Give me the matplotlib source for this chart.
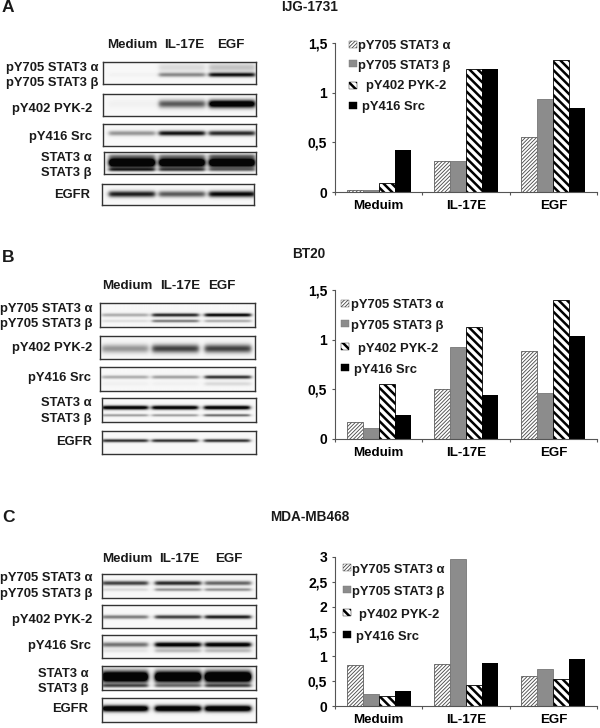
import numpy as np
import matplotlib
matplotlib.use('Agg')
import matplotlib.pyplot as plt
from matplotlib.patches import Rectangle

plt.rcParams['font.family'] = ['Liberation Sans', 'DejaVu Sans']
plt.rcParams['font.weight'] = 'bold'

W, H = 600, 728
categories = ['Meduim', 'IL-17E', 'EGF']
series = ['pY705 STAT3 α', 'pY705 STAT3 β', 'pY402 PYK-2', 'pY416 Src']
lanes = ['Medium', 'IL-17E', 'EGF']

# bar values, one list per series
a_alpha = [0.02, 0.31, 0.55]
a_beta = [0.02, 0.31, 0.94]
a_pyk = [0.09, 1.24, 1.33]
a_src = [0.42, 1.24, 0.85]

b_alpha = [0.17, 0.50, 0.89]
b_beta = [0.11, 0.93, 0.46]
b_pyk = [0.55, 1.13, 1.40]
b_src = [0.24, 0.44, 1.04]

c_alpha = [0.82, 0.84, 0.60]
c_beta = [0.24, 2.95, 0.74]
c_pyk = [0.20, 0.42, 0.55]
c_src = [0.30, 0.86, 0.94]

# blot bands: (height in box, thickness in px, strength per lane)
a_blots = [
    [(0.58, 1.6, [0.02, 0.45, 0.95]), (0.25, 3.0, [0.0, 0.12, 0.22])],
    [(0.45, 2.8, [0.03, 0.65, 1.3])],
    [(0.42, 1.8, [0.4, 0.95, 0.85])],
    [(0.48, 3.5, [1.6, 1.5, 1.5]), (0.80, 1.3, [0.7, 0.6, 0.45]), (0.18, 1.5, [0.25, 0.25, 0.35])],
    [(0.48, 2.2, [0.9, 0.65, 1.0])],
]
b_blots = [
    [(0.50, 1.3, [0.3, 0.85, 1.0]), (0.75, 1.1, [0.1, 0.5, 0.3])],
    [(0.55, 3.0, [0.4, 0.75, 0.75])],
    [(0.42, 1.3, [0.3, 0.35, 0.8]), (0.70, 1.5, [0.03, 0.03, 0.12])],
    [(0.40, 1.5, [1.1, 1.1, 1.1]), (0.72, 1.0, [0.35, 0.35, 0.55])],
    [(0.42, 1.2, [0.8, 0.8, 0.8])],
]
c_blots = [
    [(0.38, 1.6, [0.75, 0.85, 0.6]), (0.65, 1.2, [0.12, 0.4, 0.4])],
    [(0.52, 1.4, [0.5, 0.75, 0.9])],
    [(0.42, 1.8, [0.55, 1.1, 1.1]), (0.68, 1.5, [0.08, 0.25, 0.25])],
    [(0.45, 4.0, [1.6, 1.6, 1.7]), (0.82, 1.3, [0.6, 0.45, 0.6])],
    [(0.44, 2.3, [1.3, 1.3, 1.3])],
]

fig = plt.figure(figsize=(W / 100, H / 100), dpi=100)


def txt(x, y, s, size=9.4, ha='left'):
    fig.text(x / W, 1 - y / H, s, fontsize=size, ha=ha, va='center', color='#1a1a1a')


def axes_px(x0, y0, x1, y1):
    return fig.add_axes([x0 / W, 1 - y1 / H, (x1 - x0) / W, (y1 - y0) / H])


def blot(box, lane_x, bands):
    x0, y0, x1, y1 = box
    xx = np.arange(x0, x1) + 0.5
    yy = np.arange(y0, y1) + 0.5
    dark = np.zeros((len(yy), len(xx)))
    for pos, thick, strength in bands:
        row = np.exp(-((yy - (y0 + pos * (y1 - y0))) / thick) ** 2 / 2)
        for cx, s in zip(lane_x, strength):
            col = 0.5 * (np.tanh((xx - cx + 23) / 2.5) - np.tanh((xx - cx - 23) / 2.5))
            dark += s * np.outer(row, col)
    ax = axes_px(x0, y0, x1, y1)
    ax.imshow(0.97 - 0.95 * np.clip(dark, 0, 1), cmap='gray', vmin=0, vmax=1, aspect='auto')
    ax.set_xticks([])
    ax.set_yticks([])
    for sp in ax.spines.values():
        sp.set_linewidth(1.0)
        sp.set_color('#333333')


def thick_hatch(patch, lw):
    # hatch width is global in matplotlib, so set it for this one patch at draw time
    old_draw = patch.draw

    def draw(renderer):
        with plt.rc_context({'hatch.linewidth': lw}):
            old_draw(renderer)
    patch.draw = draw
    if hasattr(patch, 'set_hatch_linewidth'):
        patch.set_hatch_linewidth(lw)


bar_styles = [
    dict(facecolor='white', edgecolor='#444444', hatch='/' * 9, linewidth=0.5),
    dict(facecolor='#8c8c8c', edgecolor='#777777', linewidth=0.6),
    dict(facecolor='white', edgecolor='black', hatch='\\' * 4, linewidth=0.6),
    dict(facecolor='black', edgecolor='black', linewidth=0),
]
hatch_widths = [0.6, 1, 1.8, 1]


def bars(y_top, y_zero, ymax, step, values):
    ax = axes_px(335, y_top, 597, y_zero)
    x = np.arange(3)
    w = 0.183
    for i, vals in enumerate(values):
        drawn = ax.bar(x + (i - 1.5) * w, vals, w, **bar_styles[i])
        for p in drawn:
            thick_hatch(p, hatch_widths[i])
    ax.set_xlim(-0.5, 2.5)
    ax.set_ylim(0, ymax)
    ticks = np.arange(0, ymax + 0.01, step)
    ax.set_yticks(ticks)
    ax.set_yticklabels([f'{t:g}'.replace('.', ',') for t in ticks], fontsize=10)
    ax.set_xticks(x)
    ax.set_xticklabels(categories, fontsize=9.6)
    ax.set_xticks([-0.5, 0.5, 1.5, 2.5], minor=True)
    ax.tick_params(axis='x', which='major', length=0, pad=6)
    ax.tick_params(axis='x', which='minor', length=2.5, width=0.8, color='#555555')
    ax.tick_params(axis='y', length=2.5, width=0.8, color='#555555', pad=3)
    ax.spines['top'].set_visible(False)
    ax.spines['right'].set_visible(False)
    ax.spines['left'].set_color('#555555')
    ax.spines['bottom'].set_color('#555555')
    return ax


def legend(sq_x, sq_y, text_x, text_y):
    for i, st in enumerate(bar_styles):
        st = dict(st, linewidth=0.3)
        r = Rectangle((sq_x / W, 1 - (sq_y[i] + 3.5) / H), 8 / W, 7 / H,
                      transform=fig.transFigure, zorder=5, **st)
        fig.add_artist(r)
        thick_hatch(r, hatch_widths[i])
        txt(text_x[i], text_y[i], series[i])


# panel A
txt(2, 8, 'A', 12.5)
txt(310, 7, 'IJG-1731', 9.8, 'center')
for x, s in zip([132, 184, 231], lanes):
    txt(x, 45, s, 9.6, 'center')
a_boxes = [(103, 62, 256, 84), (103, 94, 256, 116), (103, 124, 256, 146), (104, 152, 256, 174), (102, 184, 254, 205)]
for box, bands in zip(a_boxes, a_blots):
    blot(box, [132, 182, 232], bands)
txt(98, 68, 'pY705 STAT3 α', ha='right')
txt(98, 83, 'pY705 STAT3 β', ha='right')
txt(92, 109, 'pY402 PYK-2', ha='right')
txt(92, 137, 'pY416 Src', ha='right')
txt(92, 158, 'STAT3 α', ha='right')
txt(92, 173, 'STAT3 β', ha='right')
txt(90, 195, 'EGFR', ha='right')
bars(43, 192, 1.5, 0.5, [a_alpha, a_beta, a_pyk, a_src])
legend(349, [44, 63, 85, 105], [358, 358, 366, 362], [46, 66, 86, 107])

# panel B
txt(2, 257, 'B', 12.5)
txt(309, 254, 'BT20', 9.8, 'center')
for x, s in zip([127, 180, 222], lanes):
    txt(x, 286, s, 9.6, 'center')
b_boxes = [(100, 303, 255, 327), (100, 336, 255, 359), (100, 367, 255, 391), (102, 398, 256, 422), (102, 431, 256, 454)]
for box, bands in zip(b_boxes, b_blots):
    blot(box, [125, 175, 227], bands)
txt(93, 309, 'pY705 STAT3 α', ha='right')
txt(93, 324, 'pY705 STAT3 β', ha='right')
txt(92, 348, 'pY402 PYK-2', ha='right')
txt(91, 378, 'pY416 Src', ha='right')
txt(92, 403, 'STAT3 α', ha='right')
txt(92, 419, 'STAT3 β', ha='right')
txt(92, 442, 'EGFR', ha='right')
bars(290, 439, 1.5, 0.5, [b_alpha, b_beta, b_pyk, b_src])
legend(341, [303, 323, 346, 367], [351, 351, 358, 354], [305, 326, 349, 370])

# panel C
txt(2, 518, 'C', 12.5)
txt(310, 517, 'MDA-MB468', 9.8, 'center')
for x, s in zip([127, 179, 229], lanes):
    txt(x, 559, s, 9.6, 'center')
c_boxes = [(102, 574, 256, 598), (102, 605, 256, 628), (102, 635, 256, 658), (102, 666, 256, 690), (102, 698, 256, 722)]
for box, bands in zip(c_boxes, c_blots):
    blot(box, [125, 178, 228], bands)
txt(93, 578, 'pY705 STAT3 α', ha='right')
txt(93, 594, 'pY705 STAT3 β', ha='right')
txt(92, 620, 'pY402 PYK-2', ha='right')
txt(91, 646, 'pY416 Src', ha='right')
txt(89, 674, 'STAT3 α', ha='right')
txt(89, 689, 'STAT3 β', ha='right')
txt(88, 709, 'EGFR', ha='right')
bars(557, 706, 3, 0.5, [c_alpha, c_beta, c_pyk, c_src])
legend(343, [567, 589, 612, 634], [352, 352, 359, 356], [570, 592, 615, 637])

fig.savefig('out.png', dpi=100)
